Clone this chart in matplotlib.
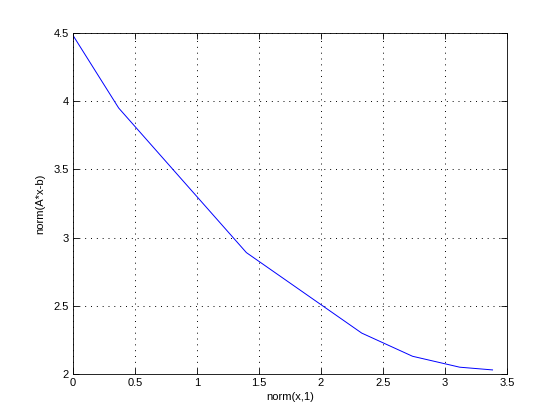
import matplotlib
matplotlib.use("Agg")
import matplotlib.pyplot as plt
from matplotlib.ticker import FuncFormatter

x_vals = [0.0, 0.37, 1.40, 2.33, 2.74, 3.12, 3.385]
y_vals = [4.485, 3.95, 2.89, 2.30, 2.13, 2.05, 2.03]
x_ticks = [0, 0.5, 1, 1.5, 2, 2.5, 3, 3.5]
y_ticks = [2, 2.5, 3, 3.5, 4, 4.5]

plt.rcParams['font.family'] = ['Liberation Sans', 'DejaVu Sans']
fig = plt.figure(figsize=(5.6, 4.2), dpi=100)
ax = fig.add_axes([0.13, 0.1095, 0.775, 0.8119])
ax.plot(x_vals, y_vals, color=(0, 0, 1), linewidth=0.7)
ax.set_xlim(0, 3.5)
ax.set_ylim(2, 4.5)
ax.set_xticks(x_ticks)
ax.set_yticks(y_ticks)
fmt = FuncFormatter(lambda v, p: '%g' % v)
ax.xaxis.set_major_formatter(fmt)
ax.yaxis.set_major_formatter(fmt)
ax.grid(True, color='black', linestyle=(0, (1, 5)), linewidth=0.7)
ax.tick_params(direction='in', length=4, width=0.6, labelsize=8, top=True, right=True, pad=3)
for s in ax.spines.values():
    s.set_linewidth(0.6)
ax.set_xlabel('norm(x,1)', fontsize=8, labelpad=3)
ax.set_ylabel('norm(A*x-b)', fontsize=8, labelpad=6)
fig.savefig('out.png', dpi=100)
